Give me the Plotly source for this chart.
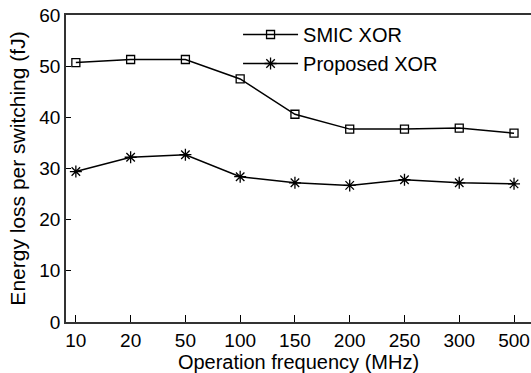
import plotly.graph_objects as go

freqs = ["10", "20", "50", "100", "150", "200", "250", "300", "500"]
smic_xor = [50.7, 51.3, 51.3, 47.5, 40.6, 37.7, 37.7, 37.9, 36.9]
proposed_xor = [29.4, 32.2, 32.7, 28.4, 27.2, 26.7, 27.8, 27.2, 27.0]

FONT = "Liberation Sans, Arial, sans-serif"

fig = go.Figure()
fig.add_trace(go.Scatter(
    x=list(range(len(freqs))), y=smic_xor, name="SMIC XOR", mode="lines+markers",
    line=dict(color="black", width=1.5), legendgroup="a",
    marker=dict(symbol="square-open", size=8, color="black", line=dict(width=1.3)),
))
fig.add_trace(go.Scatter(
    x=list(range(len(freqs))), y=proposed_xor, name="Proposed XOR", mode="lines+markers",
    line=dict(color="black", width=1.5), legendgroup="b",
    marker=dict(symbol="asterisk-open", size=10, color="black", line=dict(width=1.3, color="black")),
))

fig.update_layout(
    width=531, height=373,
    margin=dict(l=66, r=0, t=15, b=51),
    paper_bgcolor="white", plot_bgcolor="white",
    font=dict(family=FONT, size=19, color="black"),
    showlegend=True,
    legend=dict(x=0.37, y=1.0, xanchor="left", yanchor="top",
                bgcolor="rgba(0,0,0,0)", font=dict(size=20), itemwidth=55,
                tracegroupgap=0),
    xaxis=dict(
        range=[-0.18, 8.31], tickmode="array", tickvals=list(range(len(freqs))), ticktext=freqs,
        showgrid=False, zeroline=False, showline=True, linecolor="#333", linewidth=1.5,
        mirror=True, ticks="inside", ticklen=7, tickcolor="black", tickwidth=1,
        title=dict(text="Operation frequency (MHz)", font=dict(size=20), standoff=3),
        tickfont=dict(size=19), ticklabeloverflow="allow",
    ),
    yaxis=dict(
        range=[0, 60], tickvals=[0, 10, 20, 30, 40, 50, 60],
        showgrid=False, zeroline=False, showline=True, linecolor="#333", linewidth=1.5,
        ticks="inside", ticklen=5, tickcolor="black", tickwidth=1,
        title=dict(text="Energy loss per switching (fJ)", font=dict(size=21), standoff=8),
        tickfont=dict(size=19), ticklabeloverflow="allow",
    ),
)

fig.write_html("out.html", config={"displayModeBar": False},
               post_script="document.body.style.margin='0';document.body.style.overflow='hidden';")
